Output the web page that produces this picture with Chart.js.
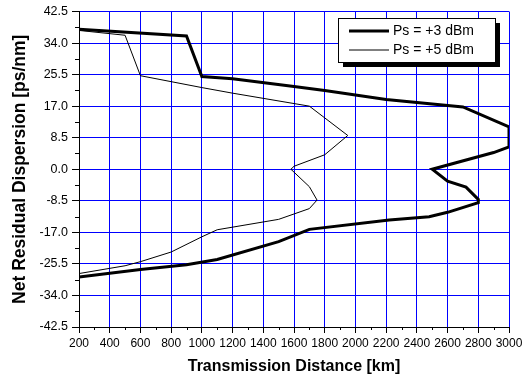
<!DOCTYPE html>
<html>
<head>
<meta charset="utf-8">
<script src="https://cdn.jsdelivr.net/npm/chart.js@4.4.1/dist/chart.umd.min.js"></script>
<style>
  html, body { margin: 0; padding: 0; background: #fff; }
  #wrap { width: 529px; height: 379px; }
</style>
</head>
<body>
<div id="wrap"><canvas id="chart"></canvas></div>
<script>
// Ps = +3 dBm (thick line)
const dist3 = [200, 900, 1000, 1200, 1600, 1800, 2200, 2700, 3000, 3000, 2900, 2500, 2600, 2720, 2800, 2800, 2600, 2480, 2220, 1700, 1500, 1100, 900, 600, 200];
const disp3 = [37.7, 35.9, 25.0, 24.4, 22.3, 21.2, 18.8, 16.8, 11.4, 6.0, 4.5, 0.0, -3.2, -4.8, -8.1, -9.0, -11.6, -12.8, -13.7, -16.2, -19.5, -24.3, -25.7, -27.0, -29.0];
// Ps = +5 dBm (thin line)
const dist5 = [200, 500, 600, 1000, 1200, 1700, 1950, 1800, 1600, 1580, 1700, 1750, 1700, 1500, 1100, 1000, 800, 600, 500, 200];
const disp5 = [37.4, 36.1, 25.2, 22.0, 20.5, 17.0, 9.1, 3.9, 0.8, 0.0, -4.7, -8.3, -10.6, -13.5, -16.3, -18.2, -22.3, -24.9, -26.0, -28.1];

const seriesLabels = ["Ps = +3 dBm", "Ps = +5 dBm"];
const xMin = 200, xMax = 3000, xStep = 200;
const yMin = -42.5, yMax = 42.5, yStep = 8.5;

const FONT = "'Liberation Sans', Arial, sans-serif";

function toPoints(xs, ys) {
  return xs.map(function (x, i) { return { x: x, y: ys[i] }; });
}

// minor ticks + legend box with shadow
const extras = {
  id: "extras",
  afterDraw: function (chart) {
    const ctx = chart.ctx;
    const xs = chart.scales.x, ys = chart.scales.y;
    const area = chart.chartArea;
    ctx.save();
    ctx.strokeStyle = "#000";
    ctx.lineWidth = 1;
    ctx.beginPath();
    for (let v = xMin + xStep / 2; v < xMax; v += xStep) {
      const px = Math.round(xs.getPixelForValue(v)) + 0.5;
      ctx.moveTo(px, area.bottom);
      ctx.lineTo(px, area.bottom + 3);
    }
    for (let v = yMin + yStep / 2; v < yMax; v += yStep) {
      const py = Math.round(ys.getPixelForValue(v)) + 0.5;
      ctx.moveTo(area.left - 4, py);
      ctx.lineTo(area.left, py);
    }
    ctx.stroke();

    // legend
    const bx = 338, by = 18, bw = 157, bh = 44;
    ctx.fillStyle = "#000";
    ctx.fillRect(bx + 5, by + 5, bw, bh);
    ctx.fillStyle = "#fff";
    ctx.fillRect(bx, by, bw, bh);
    ctx.strokeRect(bx + 0.5, by + 0.5, bw, bh);
    const widths = [3, 1];
    ctx.font = "14px " + FONT;
    ctx.textBaseline = "middle";
    seriesLabels.forEach(function (lab, i) {
      const ly = by + 13 + i * 19;
      ctx.lineWidth = widths[i];
      ctx.beginPath();
      ctx.moveTo(349, ly);
      ctx.lineTo(389, ly);
      ctx.stroke();
      ctx.fillStyle = "#000";
      ctx.fillText(lab, 393, ly);
    });
    ctx.restore();
  }
};

new Chart(document.getElementById("chart").getContext("2d"), {
  type: "scatter",
  data: {
    datasets: [
      {
        label: seriesLabels[0],
        data: toPoints(dist3, disp3),
        showLine: true,
        borderColor: "#000",
        borderWidth: 3,
        pointRadius: 0,
        tension: 0,
        fill: false
      },
      {
        label: seriesLabels[1],
        data: toPoints(dist5, disp5),
        showLine: true,
        borderColor: "#000",
        borderWidth: 1,
        pointRadius: 0,
        tension: 0,
        fill: false
      }
    ]
  },
  options: {
    responsive: true,
    maintainAspectRatio: false,
    animation: false,
    layout: { padding: { left: 0, top: 11, right: 20, bottom: 0 } },
    plugins: {
      legend: { display: false },
      tooltip: { enabled: false }
    },
    scales: {
      x: {
        type: "linear",
        min: xMin,
        max: xMax,
        ticks: {
          stepSize: xStep,
          color: "#000",
          font: { family: FONT, size: 12 },
          padding: 3,
          maxRotation: 0,
          autoSkip: false,
          callback: function (v) { return String(v); }
        },
        grid: { color: "#0000ff", tickColor: "#000", tickLength: 6, lineWidth: 1 },
        border: { color: "#000", width: 1 },
        title: {
          display: true,
          text: "Transmission Distance [km]",
          color: "#000",
          font: { family: FONT, size: 16, weight: "bold" },
          padding: { top: 4, bottom: 3 }
        },
        afterFit: function (scale) { scale.height = 52; }
      },
      y: {
        type: "linear",
        min: yMin,
        max: yMax,
        ticks: {
          stepSize: yStep,
          color: "#000",
          font: { family: FONT, size: 12.5 },
          padding: 4,
          autoSkip: false,
          callback: function (v) { return Number(v).toFixed(1); }
        },
        grid: { color: "#0000ff", tickColor: "#000", tickLength: 7, lineWidth: 1 },
        border: { color: "#000", width: 1 },
        title: {
          display: true,
          text: "Net Residual Dispersion [ps/nm]",
          color: "#000",
          font: { family: FONT, size: 17.5, weight: "bold" },
          padding: { top: 10, bottom: 4 }
        },
        afterFit: function (scale) { scale.width = 79; }
      }
    }
  },
  plugins: [extras]
});
</script>
</body>
</html>
